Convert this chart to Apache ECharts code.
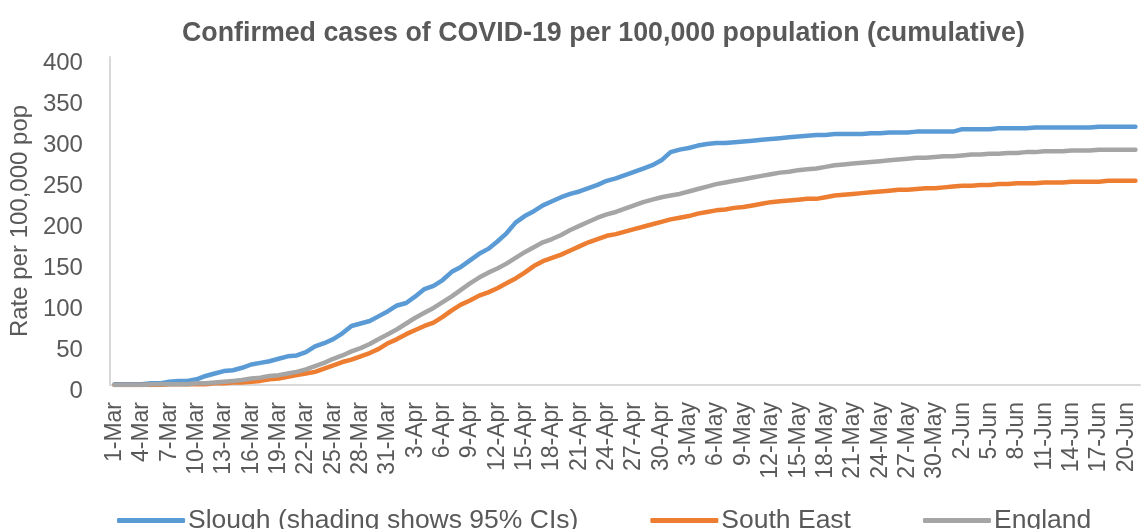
<!DOCTYPE html>
<html>
<head>
<meta charset="utf-8">
<script src="https://cdn.jsdelivr.net/npm/echarts@6/dist/echarts.min.js"></script>
<style>html,body{margin:0;padding:0;background:#fff}#c{width:1145px;height:529px}</style>
</head>
<body>
<div id="c"></div>
<script>
var categories = [
"1-Mar","2-Mar","3-Mar","4-Mar","5-Mar","6-Mar","7-Mar","8-Mar","9-Mar","10-Mar","11-Mar","12-Mar","13-Mar","14-Mar","15-Mar","16-Mar","17-Mar","18-Mar","19-Mar","20-Mar","21-Mar","22-Mar","23-Mar","24-Mar","25-Mar","26-Mar","27-Mar","28-Mar","29-Mar","30-Mar","31-Mar",
"1-Apr","2-Apr","3-Apr","4-Apr","5-Apr","6-Apr","7-Apr","8-Apr","9-Apr","10-Apr","11-Apr","12-Apr","13-Apr","14-Apr","15-Apr","16-Apr","17-Apr","18-Apr","19-Apr","20-Apr","21-Apr","22-Apr","23-Apr","24-Apr","25-Apr","26-Apr","27-Apr","28-Apr","29-Apr","30-Apr",
"1-May","2-May","3-May","4-May","5-May","6-May","7-May","8-May","9-May","10-May","11-May","12-May","13-May","14-May","15-May","16-May","17-May","18-May","19-May","20-May","21-May","22-May","23-May","24-May","25-May","26-May","27-May","28-May","29-May","30-May","31-May",
"1-Jun","2-Jun","3-Jun","4-Jun","5-Jun","6-Jun","7-Jun","8-Jun","9-Jun","10-Jun","11-Jun","12-Jun","13-Jun","14-Jun","15-Jun","16-Jun","17-Jun","18-Jun","19-Jun","20-Jun","21-Jun"];

var slough = [1,1,1,1,2,2,4,5,5,7,11,14,17,18,21,25,27,29,32,35,36,40,47,51,56,63,72,75,78,84,90,97,100,108,117,121,128,138,144,152,160,166,175,185,198,206,212,219,224,229,233,236,240,244,249,252,256,260,264,268,274,284,287,289,292,294,295,295,296,297,298,299,300,301,302,303,304,305,305,306,306,306,306,307,307,308,308,308,309,309,309,309,309,312,312,312,312,313,313,313,313,314,314,314,314,314,314,314,315,315,315,315,315];

var southEast = [0,0,0,0,0,0,1,1,1,1,1,2,2,3,3,4,5,7,8,10,12,14,16,20,24,28,31,35,39,44,51,56,62,67,72,76,83,91,98,103,109,113,118,124,130,137,145,151,155,159,164,169,174,178,182,184,187,190,193,196,199,202,204,206,209,211,213,214,216,217,219,221,223,224,225,226,227,227,229,231,232,233,234,235,236,237,238,238,239,240,240,241,242,243,243,244,244,245,245,246,246,246,247,247,247,248,248,248,248,249,249,249,249];

var england = [0,0,0,0,1,1,1,1,1,2,2,3,4,5,6,8,9,11,12,14,16,19,23,27,32,36,41,45,50,56,62,68,75,82,88,94,101,108,116,124,131,137,142,148,155,162,168,174,178,183,189,194,199,204,208,211,215,219,223,226,229,231,233,236,239,242,245,247,249,251,253,255,257,259,260,262,263,264,266,268,269,270,271,272,273,274,275,276,277,277,278,279,279,280,281,281,282,282,283,283,284,284,285,285,285,286,286,286,287,287,287,287,287];

var yTicks = [0,50,100,150,200,250,300,350,400];
var seriesNames = ["Slough (shading shows 95% CIs)","South East","England"];
var titleText = "Confirmed cases of COVID-19 per 100,000 population (cumulative)";
var yName = "Rate per 100,000 pop";

var chart = echarts.init(document.getElementById('c'), null, {renderer:'canvas'});
var txt = '#595959';
var font = 'Liberation Sans';
chart.setOption({
  animation:false,
  backgroundColor:'#ffffff',
  title:{text:titleText,left:177,top:15,textStyle:{fontFamily:font,fontWeight:'bold',fontSize:26.8,color:txt}},
  grid:{left:105,right:5,top:57,bottom:144,containLabel:false},
  legend:{
    data:seriesNames,left:112,top:502,itemWidth:68,itemHeight:5,itemGap:72,icon:'roundRect',
    textStyle:{fontFamily:font,fontSize:26.5,color:txt,padding:[0,0,0,-2]}
  },
  xAxis:{
    type:'category',data:categories,boundaryGap:true,
    axisLine:{lineStyle:{color:'#d9d9d9',width:2}},
    axisTick:{show:false},
    axisLabel:{interval:2,rotate:90,margin:17,fontFamily:font,fontSize:23,color:txt}
  },
  yAxis:{
    type:'value',min:yTicks[0],max:yTicks[yTicks.length-1],interval:50,
    name:yName,nameLocation:'middle',nameGap:63,nameRotate:90,
    nameTextStyle:{fontFamily:font,fontSize:24,color:txt},
    axisLine:{show:true,lineStyle:{color:'#d9d9d9',width:2}},
    axisTick:{show:false},
    splitLine:{show:false},
    axisLabel:{margin:27,color:txt,formatter:'{a|{value}}',
      rich:{a:{fontFamily:font,fontSize:24,color:txt,padding:[12,0,0,0]}}}
  },
  series:[
    {name:seriesNames[0],type:'line',data:slough,showSymbol:false,symbol:'none',lineStyle:{color:'#5b9bd5',width:4.5,cap:'round',join:'round'},itemStyle:{color:'#5b9bd5'},z:2},
    {name:seriesNames[1],type:'line',data:southEast,showSymbol:false,symbol:'none',lineStyle:{color:'#ed7d31',width:4.5,cap:'round',join:'round'},itemStyle:{color:'#ed7d31'},z:3},
    {name:seriesNames[2],type:'line',data:england,showSymbol:false,symbol:'none',lineStyle:{color:'#a5a5a5',width:4.5,cap:'round',join:'round'},itemStyle:{color:'#a5a5a5'},z:4}
  ]
});
</script>
</body>
</html>
